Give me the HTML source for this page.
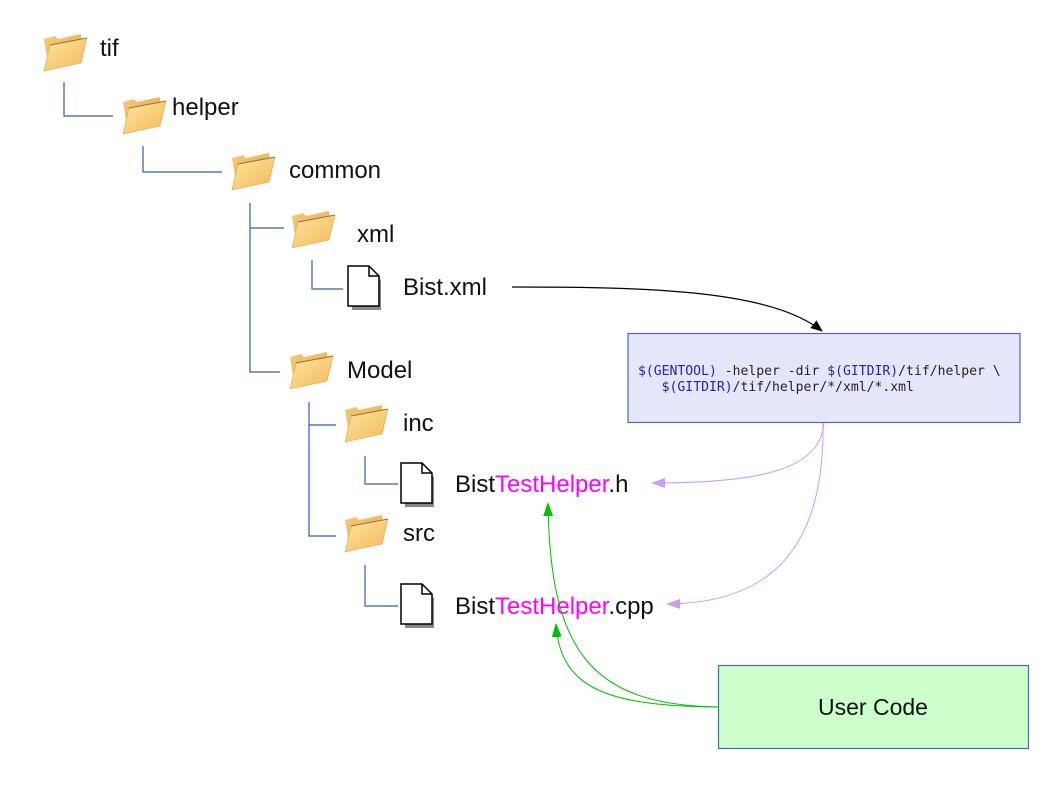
<!DOCTYPE html>
<html><head><meta charset="utf-8"><style>
body{margin:0;background:#fff;}
svg{display:block;font-family:"Liberation Sans",sans-serif;}
</style></head><body>
<svg width="1058" height="794" viewBox="0 0 1058 794" xmlns="http://www.w3.org/2000/svg">
<defs>
<linearGradient id="fb" x1="0" y1="0" x2="1" y2="1"><stop offset="0" stop-color="#f6c978"/><stop offset="1" stop-color="#e9a84a"/></linearGradient>
<linearGradient id="ff" x1="0" y1="0" x2="1" y2="1"><stop offset="0" stop-color="#fde6a0"/><stop offset="1" stop-color="#f3b858"/></linearGradient>
<g id="folder">
<path d="M3 6 L14 3 L17 6 L40 1 L42 24 L8 36 Z" fill="url(#fb)"/>
<path d="M9 12 L46 5 L40 30 L3 38 Z" fill="url(#ff)" stroke="#e0a550" stroke-width="0.6"/>
<path d="M9 12 L46 5" stroke="#9a7030" stroke-width="1"/>
</g>
<g id="file">
<path d="M3 3 L22 3 L32 13 L32 43 L3 43 Z" fill="#888" transform="translate(2,2)"/>
<path d="M1 1 L22 1 L32 11 L32 41 L1 41 Z" fill="#fff" stroke="#000" stroke-width="1.5"/>
<path d="M22 1 L22 11 L32 11" fill="none" stroke="#000" stroke-width="1.5"/>
</g>
<marker id="ab" markerWidth="12" markerHeight="10" refX="11" refY="5" orient="auto" markerUnits="userSpaceOnUse"><path d="M0 0 L12 5 L0 10 Z" fill="#000"/></marker>
<marker id="ap" markerWidth="14" markerHeight="10" refX="13" refY="5" orient="auto" markerUnits="userSpaceOnUse"><path d="M0 0 L14 5 L0 10 Z" fill="#c99cf6"/></marker>
<marker id="ag" markerWidth="14" markerHeight="10" refX="13" refY="5" orient="auto" markerUnits="userSpaceOnUse"><path d="M0 0 L14 5 L0 10 Z" fill="#00c000"/></marker>
</defs>
<g stroke="#2f5fb0" stroke-width="1.2" fill="none">
<path d="M64 82 V116 H113"/>
<path d="M143 146 V172 H222"/>
<path d="M250 203 V372 H280 M250 228 H284"/>
<path d="M312 260 V289 H343"/>
<path d="M309 402 V536 H336 M309 425 H336"/>
<path d="M365 456 V484 H398"/>
<path d="M365 565 V606 H398"/>
</g>
<use href="#folder" x="41" y="33"/>
<use href="#folder" x="120" y="96"/>
<use href="#folder" x="229" y="152"/>
<use href="#folder" x="289" y="210"/>
<use href="#folder" x="287" y="351"/>
<use href="#folder" x="342" y="404"/>
<use href="#folder" x="342" y="514"/>
<use href="#file" x="347" y="265"/>
<use href="#file" x="400" y="462"/>
<use href="#file" x="400" y="583"/>
<g font-size="24" fill="#111">
<text x="100" y="56">tif</text>
<text x="172" y="115">helper</text>
<text x="289" y="178">common</text>
<text x="357" y="242">xml</text>
<text x="403" y="295">Bist.xml</text>
<text x="347" y="378">Model</text>
<text x="403" y="431">inc</text>
<text x="403" y="541">src</text>
<text x="455" y="492">Bist<tspan fill="#ff00ff">TestHelper</tspan>.h</text>
<text x="455" y="614">Bist<tspan fill="#ff00ff">TestHelper</tspan>.cpp</text>
</g>
<rect x="628" y="333.5" width="392" height="89" fill="#e6e6fa" stroke="#4a6ab0" stroke-width="1.2"/>
<g font-family="'DejaVu Sans Mono','Liberation Mono',monospace" font-size="13.1" fill="#222">
<text x="638" y="375" xml:space="preserve"><tspan fill="#2222c0">$(GENTOOL)</tspan> -helper -dir <tspan fill="#2222c0">$(GITDIR)</tspan>/tif/helper \</text>
<text x="638" y="391" xml:space="preserve">   <tspan fill="#2222c0">$(GITDIR)</tspan>/tif/helper/*/xml/*.xml</text>
</g>
<rect x="718.5" y="665.5" width="310" height="83" fill="#ccffcc" stroke="#4a6ab0" stroke-width="1.2"/>
<text x="873" y="715" font-size="23" text-anchor="middle" fill="#111">User Code</text>
<path d="M512 287 C650 287 770 290 822 331" fill="none" stroke="#000" stroke-width="1.2" marker-end="url(#ab)"/>
<path d="M824 423 C820 470 760 483 652 483" fill="none" stroke="#c99cf6" stroke-width="1" marker-end="url(#ap)"/>
<path d="M823 423 C825 560 760 603 667 604" fill="none" stroke="#c99cf6" stroke-width="1" marker-end="url(#ap)"/>
<path d="M718 707 C590 705 550 650 548 503" fill="none" stroke="#00c000" stroke-width="1" marker-end="url(#ag)"/>
<path d="M718 707 C610 706 560 690 556 624" fill="none" stroke="#00c000" stroke-width="1" marker-end="url(#ag)"/>
</svg>
</body></html>
